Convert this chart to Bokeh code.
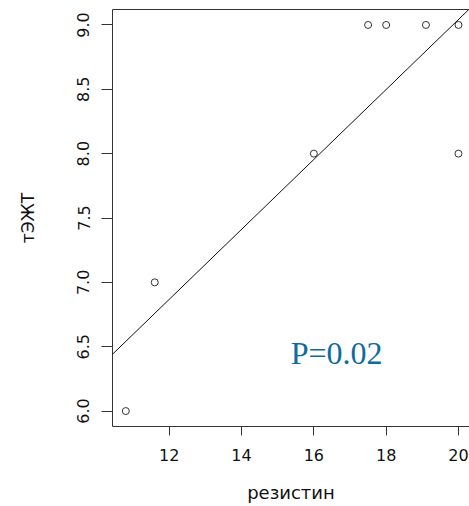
import numpy as np
from bokeh.plotting import figure
from bokeh.models import LinearAxis, FixedTicker, PrintfTickFormatter, Slope, Range1d
from bokeh.core.properties import value
from bokeh.embed import file_html
from bokeh.resources import INLINE

# data
resistin = [10.8, 11.6, 16.0, 17.5, 18.0, 19.1, 20.0, 20.0]
tegt = [6.0, 7.0, 8.0, 9.0, 9.0, 9.0, 9.0, 8.0]
x_ticks = [12, 14, 16, 18, 20]
y_ticks = [6.0, 6.5, 7.0, 7.5, 8.0, 8.5, 9.0]
p_label = "P=0.02"
x_label = "резистин"
y_label = "тЭЖТ"

# R-like ranges (4% padding)
xmin, xmax = min(resistin), max(resistin)
ymin, ymax = min(tegt), max(tegt)
xpad = 0.04 * (xmax - xmin)
ypad = 0.04 * (ymax - ymin)
x_start = xmin - xpad
y_start, y_end = ymin - ypad, ymax + ypad
# right side of the original plot is clipped by the image edge
x_end = x_start + 357 * ((xmax - xmin + 2 * xpad) / 359.3)

p = figure(width=469, height=506, output_backend="svg", toolbar_location=None,
           x_range=Range1d(x_start, x_end), y_range=Range1d(y_start, y_end),
           x_axis_location=None, y_axis_location=None,
           min_border_left=112, min_border_right=0, min_border_top=9, min_border_bottom=80)
p.outline_line_color = None
p.grid.visible = False
p.background_fill_color = "white"
p.border_fill_color = "white"

tick_font = "DejaVu Sans"

xa = LinearAxis(ticker=FixedTicker(ticks=x_ticks), formatter=PrintfTickFormatter(format="%d"))
xa.axis_label = x_label
xa.major_tick_out = 9
xa.major_tick_in = 0
xa.minor_tick_out = 0
xa.minor_tick_in = 0
xa.major_label_standoff = 13
xa.axis_label_standoff = 18
xa.major_label_text_font = tick_font
xa.major_label_text_font_size = "16px"
xa.axis_label_text_font = tick_font
xa.axis_label_text_font_size = "18px"
xa.axis_label_text_font_style = "normal"
xa.axis_line_color = "#333333"
xa.major_tick_line_color = "#333333"
xa.major_label_text_color = "#111111"
xa.axis_label_text_color = "#111111"
p.add_layout(xa, "below")

ya = LinearAxis(ticker=FixedTicker(ticks=y_ticks), formatter=PrintfTickFormatter(format="%.1f"))
ya.axis_label = y_label
ya.major_label_orientation = "vertical"
ya.major_tick_out = 11
ya.major_tick_in = 0
ya.minor_tick_out = 0
ya.minor_tick_in = 0
ya.major_label_standoff = 12
ya.axis_label_standoff = 37
ya.major_label_text_font = tick_font
ya.major_label_text_font_size = "16px"
ya.axis_label_text_font = tick_font
ya.axis_label_text_font_size = "17px"
ya.axis_label_text_font_style = "normal"
ya.axis_line_color = "#333333"
ya.major_tick_line_color = "#333333"
ya.major_label_text_color = "#111111"
ya.axis_label_text_color = "#111111"
p.add_layout(ya, "left")

ta = LinearAxis(ticker=FixedTicker(ticks=[]))
ta.major_tick_out = 0
ta.major_tick_in = 0
ta.minor_tick_out = 0
ta.minor_tick_in = 0
ta.major_label_standoff = 0
ta.major_label_text_font_size = "0px"
ta.axis_line_color = "#333333"
p.add_layout(ta, "above")

# regression line from the data
slope, intercept = np.polyfit(resistin, tegt, 1)
p.add_layout(Slope(gradient=slope, y_intercept=intercept, line_color="#111111", line_width=1))

p.scatter(resistin, tegt, size=7, marker="circle", fill_color=None,
          line_color="#333333", line_width=1)

p.text(x=[16.63], y=[6.45], text=[p_label], text_font=value("Liberation Serif"),
       text_font_size="32px", text_color="#0f6b9f", text_align="center",
       text_baseline="alphabetic")

open("out.html", "w").write(file_html(p, INLINE))
